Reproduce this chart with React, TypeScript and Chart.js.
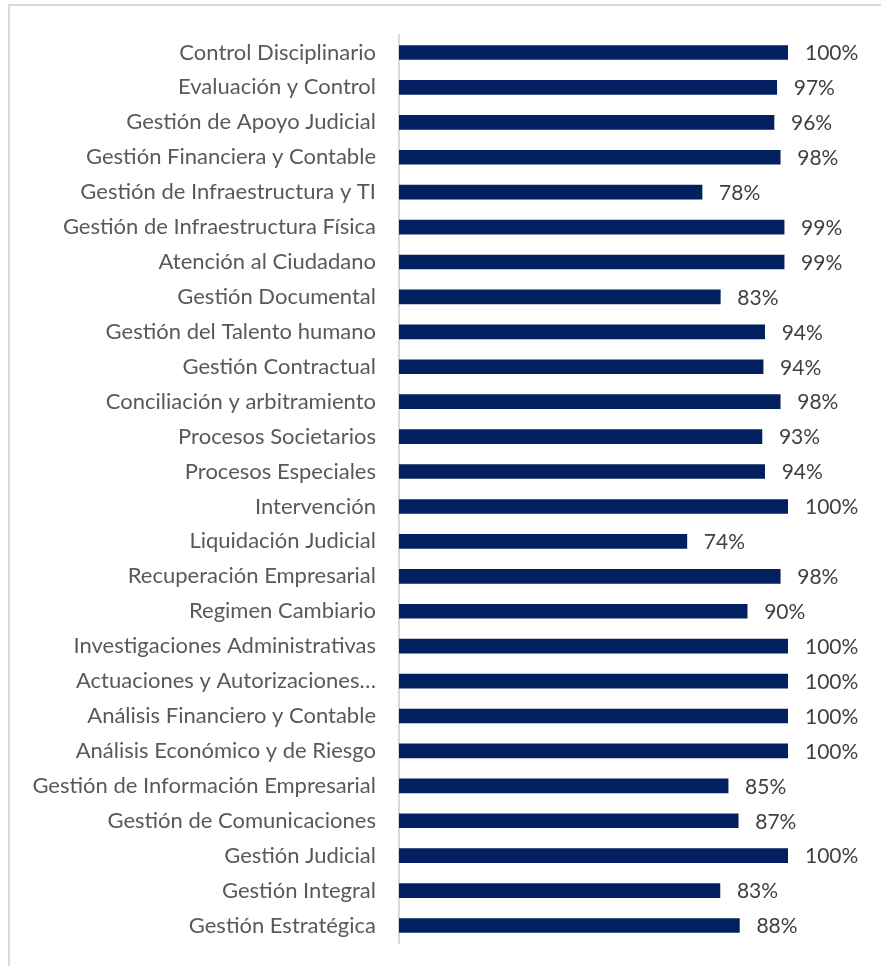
import React, { useEffect, useRef } from "react";
import { Chart, registerables } from "chart.js";

Chart.register(...registerables);

const categories: string[] = [
  "Control Disciplinario",
  "Evaluación y Control",
  "Gestión de Apoyo Judicial",
  "Gestión Financiera y Contable",
  "Gestión de Infraestructura y TI",
  "Gestión de Infraestructura Física",
  "Atención al Ciudadano",
  "Gestión Documental",
  "Gestión del Talento humano",
  "Gestión Contractual",
  "Conciliación y arbitramiento",
  "Procesos Societarios",
  "Procesos Especiales",
  "Intervención",
  "Liquidación Judicial",
  "Recuperación Empresarial",
  "Regimen Cambiario",
  "Investigaciones Administrativas",
  "Actuaciones y Autorizaciones…",
  "Análisis Financiero y Contable",
  "Análisis Económico y de Riesgo",
  "Gestión de Información Empresarial",
  "Gestión de Comunicaciones",
  "Gestión Judicial",
  "Gestión Integral",
  "Gestión Estratégica",
];

const values: number[] = [
  100, 97.1, 96.4, 98, 77.9, 99, 99, 82.6, 94, 93.6, 98, 93.3, 94, 100, 74,
  98, 89.5, 100, 100, 100, 100, 84.6, 87.2, 100, 82.5, 87.5,
];

const valueLabels: string[] = values.map((v) => `${Math.round(v)}%`);

const FONT = "Lato, 'Open Sans', sans-serif";

const frame = {
  id: "frame",
  beforeDraw(chart: any) {
    const ctx = chart.ctx;
    ctx.save();
    ctx.strokeStyle = "#d9d9d9";
    ctx.lineWidth = 2;
    ctx.beginPath();
    ctx.moveTo(9, chart.height + 5);
    ctx.lineTo(9, 5);
    ctx.lineTo(chart.width + 5, 5);
    ctx.stroke();
    ctx.restore();
  },
};

const valueLabelPlugin = {
  id: "valueLabels",
  afterDatasetsDraw(chart: any) {
    const ctx = chart.ctx;
    const meta = chart.getDatasetMeta(0);
    ctx.save();
    ctx.fillStyle = "#404040";
    ctx.font = `21px ${FONT}`;
    ctx.textAlign = "left";
    ctx.textBaseline = "middle";
    meta.data.forEach((bar: any, i: number) => {
      ctx.fillText(valueLabels[i], bar.x + 17, bar.y + 1);
    });
    ctx.restore();
  },
};

export default function App() {
  const ref = useRef<HTMLCanvasElement | null>(null);
  useEffect(() => {
    if (!ref.current) return;
    const chart = new Chart(ref.current, {
      type: "bar",
      data: {
        labels: categories,
        datasets: [
          {
            data: values,
            backgroundColor: "#02205f",
            borderWidth: 0,
            barThickness: 14,
          },
        ],
      },
      options: {
        indexAxis: "y",
        animation: false,
        responsive: true,
        maintainAspectRatio: false,
        layout: { padding: { top: 35, bottom: 23, right: 93, left: 0 } },
        plugins: { legend: { display: false }, tooltip: { enabled: false } },
        scales: {
          x: { display: false, min: 0, max: 100 },
          y: {
            afterFit(scale: any) {
              scale.width = 399;
              scale.paddingTop = 0;
              scale.paddingBottom = 0;
            },
            grid: { display: false, drawTicks: false },
            border: { display: true, color: "#d9d9d9", width: 2 },
            ticks: {
              padding: 23,
              color: "#595959",
              font: { family: FONT, size: 22 },
              autoSkip: false,
            },
          },
        },
      },
      plugins: [frame, valueLabelPlugin],
    });
    return () => chart.destroy();
  }, []);
  return (
    <div style={{ position: "absolute", left: 0, top: 0, width: 881, height: 966, background: "#fff" }}>
      <canvas ref={ref} />
    </div>
  );
}
